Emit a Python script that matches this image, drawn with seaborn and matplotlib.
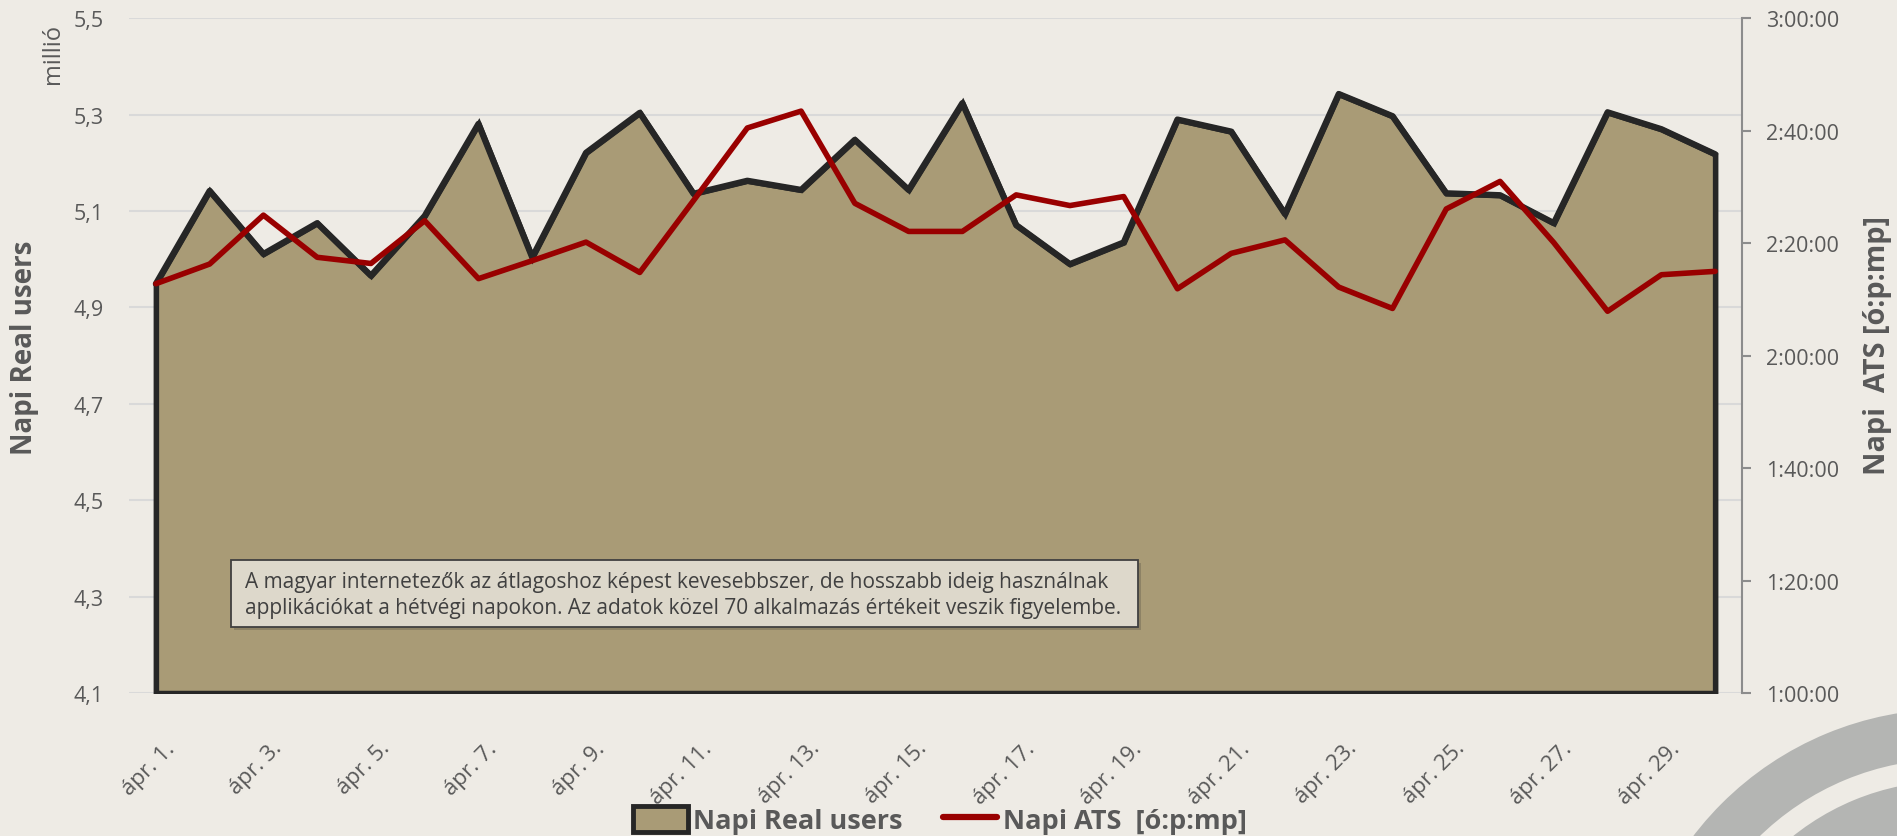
import numpy as np
import pandas as pd
import matplotlib
matplotlib.use('Agg')
import matplotlib.pyplot as plt
import matplotlib.transforms as mtransforms
from matplotlib.patches import Patch, Rectangle, Wedge
from matplotlib.lines import Line2D
from matplotlib.ticker import FuncFormatter
import seaborn as sns

# Adatok (leolvasva az ábráról)
napok = ['ápr. 1.', 'ápr. 2.', 'ápr. 3.', 'ápr. 4.', 'ápr. 5.', 'ápr. 6.',
         'ápr. 7.', 'ápr. 8.', 'ápr. 9.', 'ápr. 10.', 'ápr. 11.', 'ápr. 12.',
         'ápr. 13.', 'ápr. 14.', 'ápr. 15.', 'ápr. 16.', 'ápr. 17.', 'ápr. 18.',
         'ápr. 19.', 'ápr. 20.', 'ápr. 21.', 'ápr. 22.', 'ápr. 23.', 'ápr. 24.',
         'ápr. 25.', 'ápr. 26.', 'ápr. 27.', 'ápr. 28.', 'ápr. 29.', 'ápr. 30.']

# Napi Real users (millió)
real_users = [4.949, 5.142, 5.011, 5.075, 4.966, 5.090, 5.281, 5.004, 5.221, 5.304,
              5.136, 5.163, 5.144, 5.248, 5.144, 5.324, 5.071, 4.990, 5.035, 5.290,
              5.265, 5.094, 5.343, 5.297, 5.137, 5.133, 5.075, 5.305, 5.270, 5.218]

# Napi ATS percben
ats_perc = [132.8, 136.3, 145.0, 137.5, 136.4, 144.0, 133.7, 136.9, 140.2, 134.8,
            147.6, 160.5, 163.5, 147.1, 142.1, 142.1, 148.6, 146.7, 148.3, 131.9,
            138.2, 140.6, 132.2, 128.4, 146.1, 151.0, 140.1, 127.9, 134.4, 135.0]

bal_tengely = [4.1, 4.3, 4.5, 4.7, 4.9, 5.1, 5.3, 5.5]
jobb_tengely = [60, 80, 100, 120, 140, 160, 180]

megjegyzes = ('A magyar internetezők az átlagoshoz képest kevesebbszer, de hosszabb ideig használnak\n'
              'applikációkat a hétvégi napokon. Az adatok közel 70 alkalmazás értékeit veszik figyelembe.')

df = pd.DataFrame({'x': range(len(napok)), 'nap': napok,
                   'users': real_users, 'ats': ats_perc})

# Színek
BG = '#eeebe5'
FILL = '#a99b76'
DARK = '#262626'
RED = '#990000'
TXT = '#595959'
GREY = '#b4b5b3'

sns.set_style('white')
plt.rcParams['font.family'] = ['Open Sans', 'DejaVu Sans']

fig = plt.figure(figsize=(18.97, 8.37), dpi=100, facecolor=BG)
ax = fig.add_axes([0.0680, 0.1708, 0.8503, 0.8061])
ax.set_facecolor(BG)

# Terület + fekete vonal
ax.fill_between(df['x'], df['users'], 4.1, facecolor=FILL, edgecolor=DARK,
                linewidth=4, zorder=2, joinstyle='miter')
sns.lineplot(data=df, x='x', y='users', ax=ax, color=DARK, lw=4.5, zorder=3)

ax.set_xlim(-0.5, len(napok) - 0.5)
ax.set_ylim(4.1, 5.5)
ax.set_yticks(bal_tengely)
ax.yaxis.set_major_formatter(FuncFormatter(lambda v, p: f'{v:.1f}'.replace('.', ',')))
ax.grid(axis='y', color='#d9d9d9', lw=1.5)
ax.grid(axis='x', visible=False)
ax.set_axisbelow(True)
for s in ax.spines.values():
    s.set_visible(False)
ax.tick_params(axis='y', length=0, labelsize=15.5, labelcolor=TXT, pad=18)
ax.set_xticks(df['x'][::2])
ax.set_xticklabels(df['nap'][::2], rotation=45, ha='right', rotation_mode='anchor')
ax.tick_params(axis='x', length=0, labelsize=16, labelcolor=TXT, pad=32)
offset = mtransforms.ScaledTranslation(8 / 100, 0, fig.dpi_scale_trans)
for lab in ax.get_xticklabels():
    lab.set_transform(lab.get_transform() + offset)
ax.set_xlabel('')
ax.set_ylabel('')

# Jobb tengely: ATS
ax2 = ax.twinx()
sns.lineplot(data=df, x='x', y='ats', ax=ax2, color=RED, lw=4)
ax2.set_ylim(60, 180)
ax2.set_yticks(jobb_tengely)
ax2.yaxis.set_major_formatter(FuncFormatter(lambda v, p: f'{int(v) // 60}:{int(v) % 60:02d}:00'))
for k, s in ax2.spines.items():
    s.set_visible(k == 'right')
ax2.spines['right'].set_color('#8c8c8c')
ax2.spines['right'].set_linewidth(1.5)
ax2.tick_params(axis='y', direction='out', length=6.5, width=1.5, color='#8c8c8c',
                labelsize=15.5, labelcolor=TXT, pad=11)
ax2.set_ylabel('')
ax2.set_xlabel('')

# Szövegdoboz
ax2.add_patch(Rectangle((0.0650, 0.0940), 0.5623, 0.0993, transform=ax2.transAxes,
                        facecolor='#5a5446', alpha=0.35, lw=0, zorder=5))
ax2.add_patch(Rectangle((0.0632, 0.0978), 0.5623, 0.0993, transform=ax2.transAxes,
                        facecolor='#ddd8cb', edgecolor='#404040', lw=1.3, zorder=6))
ax2.text(0.0722, 0.1465, megjegyzes, transform=ax2.transAxes, ha='left', va='center',
         fontsize=15, color='#404040', linespacing=1.3, zorder=7)

# Tengelycímek
fig.text(0.013, 0.585, 'Napi Real users', rotation=90, ha='center', va='center',
         fontsize=20, fontweight='bold', color=TXT)
fig.text(0.028, 0.936, 'millió', rotation=90, ha='center', va='center',
         fontsize=17, color=TXT)
fig.text(0.9895, 0.587, 'Napi  ATS [ó:p:mp]', rotation=90, ha='center', va='center',
         fontsize=20.8, fontweight='bold', color=TXT)

# Jelmagyarázat
handles = [Patch(facecolor=FILL, edgecolor=DARK, lw=3.5),
           Line2D([], [], color=RED, lw=4.5, solid_capstyle='round')]
fig.legend(handles, ['Napi Real users', 'Napi ATS  [ó:p:mp]'], loc='center',
           bbox_to_anchor=(0.4955, 0.019), ncol=2, frameon=False,
           prop={'weight': 'bold', 'size': 19.5}, labelcolor=TXT,
           handlelength=2.0, handleheight=1.1, handletextpad=0.2, columnspacing=1.5)

# Díszítő körívek a jobb alsó sarokban
for r, w in [(323, 50), (251, 48)]:
    fig.add_artist(Wedge((1950, -196), r, 0, 360, width=w, facecolor=GREY, lw=0,
                         transform=mtransforms.IdentityTransform()))

fig.savefig('out.png', dpi=100, facecolor=BG)
